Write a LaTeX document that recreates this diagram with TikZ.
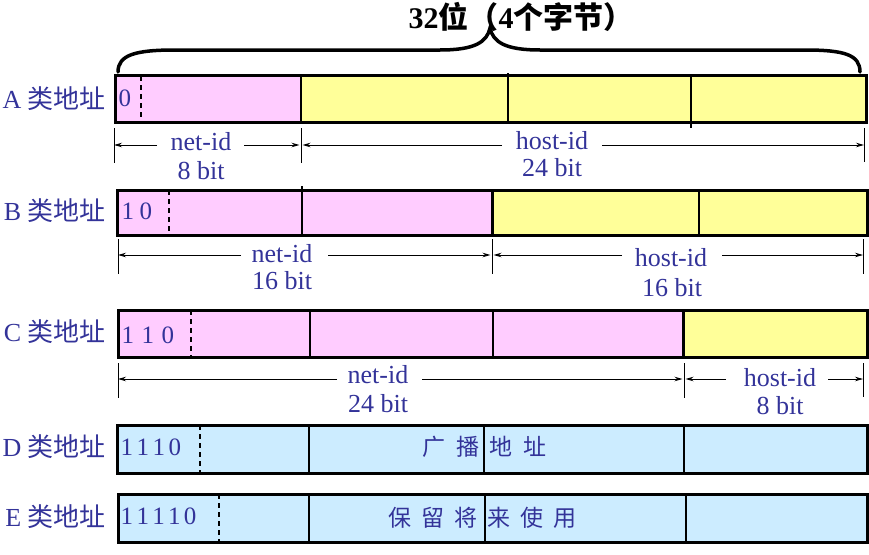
\documentclass[tikz,border=0pt]{standalone}
\usepackage{fontspec}
\setmainfont{Liberation Serif}
\newfontfamily\cjk{Noto Sans CJK SC}
\usetikzlibrary{arrows.meta}
\definecolor{pinkf}{HTML}{FFCCFF}
\definecolor{yellowf}{HTML}{FFFF99}
\definecolor{bluef}{HTML}{CCECFF}
\definecolor{txt}{HTML}{333399}
\begin{document}
\begin{tikzpicture}[x=1pt,y=-1pt,
  border/.style={line width=3pt},
  divline/.style={line width=2.4pt},
  thickdiv/.style={line width=3pt},
  dashdiv/.style={line width=2pt,dash pattern=on 5pt off 4pt},
  ticks/.style={line width=0.9pt},
  dimline/.style={line width=0.9pt,-{Stealth[length=8pt,width=4.5pt]}},
  lab/.style={text=txt,font=\fontsize{26}{28}\selectfont,anchor=east,inner sep=0pt},
  dimtxt/.style={text=txt,font=\fontsize{26}{28}\selectfont,inner sep=0pt},
  bits/.style={text=txt,font=\fontsize{25}{27}\selectfont,anchor=west,inner sep=0pt},
  cjktxt/.style={text=txt,font=\cjk\fontsize{23}{25}\selectfont,inner sep=0pt},
]
\useasboundingbox (0,0) rectangle (869,554);

% title and brace
\node[font=\bfseries\fontsize{30}{32}\selectfont,inner sep=0pt] (title) at (521,17) {32{\cjk 位（}4{\cjk 个字节）}};
\draw[line width=3.5pt,line cap=round] (118,72) .. controls (118,55) and (135,50) .. (175,50) -- (440,50)
  .. controls (475,50) and (487,42) .. (490,28) .. controls (493,42) and (505,50) .. (540,50)
  -- (805,50) .. controls (845,50) and (860,55) .. (860,72);

% row labels
\node[lab] (la) at (106,99) {A {\cjk 类地址}};
\node[lab] (lb) at (106,211) {B {\cjk 类地址}};
\node[lab] (lc) at (106,332) {C {\cjk 类地址}};
\node[lab] (ld) at (106,447) {D {\cjk 类地址}};
\node[lab] (le) at (106,517) {E {\cjk 类地址}};

% ---------- Row A ----------
\fill[pinkf] (115,75) rectangle (301,122);
\fill[yellowf] (301,75) rectangle (866,122);
\draw[dashdiv] (141,76) -- (141,122);
\draw[divline] (301,75) -- (301,122);
\draw[divline] (508,73) -- (508,121);
\draw[divline] (691,75) -- (691,128);
\draw[border] (115,75) rectangle (866,122);
\node[bits] (a0) at (118.5,98) {0};

% A dimensions
\coordinate (A1) at (114,145); \coordinate (A2) at (301,145); \coordinate (A3) at (864,145);
\draw[ticks] (114,128) -- (114,163);
\draw[ticks] (301,128) -- (301,163);
\draw[ticks] (864,128) -- (864,162);
\coordinate (Anl) at (157,145); \coordinate (Anr) at (244,145);
\coordinate (Ahl) at (502,145); \coordinate (Ahr) at (602,145);
\draw[dimline] (Anl) -- (A1);
\draw[dimline] (Anr) -- ([xshift=-1.5pt]A2);
\draw[dimline] (Ahl) -- ([xshift=1.5pt]A2);
\draw[dimline] (Ahr) -- (A3);
\node[dimtxt] (an) at (201,142) {net-id};
\node[dimtxt] (ab) at (201,171) {8 bit};
\node[dimtxt] (ah) at (552,141) {host-id};
\node[dimtxt] (ahb) at (552,168) {24 bit};

% ---------- Row B ----------
\fill[pinkf] (117,190) rectangle (492,235);
\fill[yellowf] (492,190) rectangle (867,235);
\draw[dashdiv] (169,190) -- (169,235);
\draw[divline] (302,186) -- (302,235);
\draw[thickdiv] (492,190) -- (492,235);
\draw[divline] (699,190) -- (699,235);
\draw[border] (117,190) rectangle (867,235);
\node[bits] (b0) at (121.5,211) {1\kern5.5pt 0};

% B dimensions
\coordinate (B1) at (118,255); \coordinate (B2) at (492,255); \coordinate (B3) at (863,255);
\draw[ticks] (118,239) -- (118,274);
\draw[ticks] (492,239) -- (492,274);
\draw[ticks] (863,239) -- (863,274);
\coordinate (Bnl) at (241,255); \coordinate (Bnr) at (328,255);
\coordinate (Bhl) at (622,255); \coordinate (Bhr) at (722,255);
\draw[dimline] (Bnl) -- (B1);
\draw[dimline] (Bnr) -- ([xshift=-1.5pt]B2);
\draw[dimline] (Bhl) -- ([xshift=1.5pt]B2);
\draw[dimline] (Bhr) -- (B3);
\node[dimtxt] (bn) at (282,254) {net-id};
\node[dimtxt] (bb) at (282,281) {16 bit};
\node[dimtxt] (bh) at (671,258) {host-id};
\node[dimtxt] (bhb) at (672,288) {16 bit};

% ---------- Row C ----------
\fill[pinkf] (118,310) rectangle (683,357);
\fill[yellowf] (683,310) rectangle (867,357);
\draw[dashdiv] (191,310) -- (191,357);
\draw[divline] (310,310) -- (310,357);
\draw[divline] (493,310) -- (493,357);
\draw[thickdiv] (683,310) -- (683,357);
\draw[border] (118,310) rectangle (867,357);
\node[bits] (c0) at (121.5,335) {1\kern7.5pt 1\kern7.5pt 0};

% C dimensions
\coordinate (C1) at (118,379); \coordinate (C2) at (684,379); \coordinate (C3) at (863,379);
\draw[ticks] (118,363) -- (118,398);
\draw[ticks] (684,363) -- (684,398);
\draw[ticks] (863,363) -- (863,397);
\coordinate (Cnl) at (337,379); \coordinate (Cnr) at (422,379);
\coordinate (Chl) at (726,379); \coordinate (Chr) at (828,379);
\draw[dimline] (Cnl) -- (C1);
\draw[dimline] (Cnr) -- ([xshift=-1.5pt]C2);
\draw[dimline] (Chl) -- ([xshift=1.5pt]C2);
\draw[dimline] (Chr) -- (C3);
\node[dimtxt] (cn) at (378,375) {net-id};
\node[dimtxt] (cb) at (378,404) {24 bit};
\node[dimtxt] (ch) at (780,378) {host-id};
\node[dimtxt] (chb) at (780,406) {8 bit};

% ---------- Row D ----------
\fill[bluef] (117,425) rectangle (867,473);
\draw[dashdiv] (200,425) -- (200,473);
\draw[divline] (309,425) -- (309,473);
\draw[divline] (484,425) -- (484,473);
\draw[divline] (684,425) -- (684,473);
\draw[border] (117,425) rectangle (867,473);
\node[bits] (d0) at (120.5,447) {1\kern3.5pt 1\kern3.5pt 1\kern3.5pt 0};
\node[cjktxt] (dt) at (484.5,447) {广\hspace{11pt}播\hspace{11pt}地\hspace{11pt}址};

% ---------- Row E ----------
\fill[bluef] (118,494) rectangle (867,542);
\draw[dashdiv] (219,494) -- (219,543);
\draw[divline] (309,494) -- (309,542);
\draw[divline] (485,494) -- (485,544);
\draw[divline] (686,494) -- (686,542);
\draw[border] (118,494) rectangle (867,542);
\node[bits] (e0) at (120.5,516) {1\kern3.3pt 1\kern3.3pt 1\kern3.3pt 1\kern3.3pt 0};
\node[cjktxt] (et) at (482.5,518) {保\hspace{10pt}留\hspace{10pt}将\hspace{10pt}来\hspace{10pt}使\hspace{10pt}用};
\end{tikzpicture}
\end{document}
